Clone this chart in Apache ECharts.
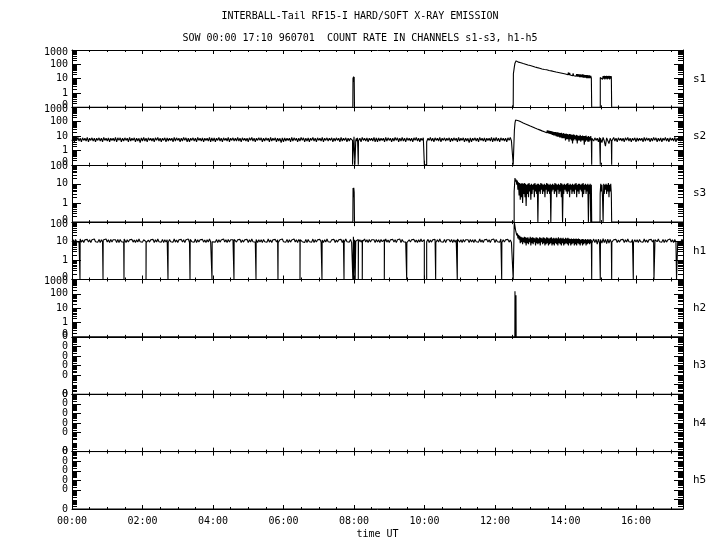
<!DOCTYPE html>
<html><head><meta charset="utf-8">
<script src="https://cdn.jsdelivr.net/npm/echarts@6/dist/echarts.min.js"></script>
<style>html,body{margin:0;padding:0;background:#fff}#c{width:720px;height:550px}</style>
</head><body><div id="c"></div>
<script>
const TITLE = 'INTERBALL-Tail RF15-I HARD/SOFT X-RAY EMISSION';
const SUBTITLE = 'SOW 00:00 17:10 960701  COUNT RATE IN CHANNELS s1-s3, h1-h5';
const X_AXIS_NAME = 'time UT';
const channels = ['s1','s2','s3','h1','h2','h3','h4','h5'];
const yMin = [0.1, 0.1, 0.1, 0.1, 0.1, 1e-7, 1e-7, 1e-7];
const yMax = [1000, 1000, 100, 100, 1000, 0.1, 0.1, 0.1];
const X_MIN = 0, X_MAX = 1040, X_INTERVAL = 120;   // minutes of day

// ---------- s1 ----------
const s1Pairs = [[0,0],[478,0],[478.3,12],[478.8,6],[479.3,14],[479.8,9],[480.3,13],[480.8,0],[751,0],[751.3,22],[752,35],[753,70],[754,120],[755,160],[756,175]];
const s1Decay = [ // 757..884, 1 min
165,150,160,142,150,136,140,130,134,122,
128,114,120,110,115,102,110,98,102,90,
98,86,92,82,91,78,84,74,80,70,
76,66,73,62,71,59,65,56,62,54,
60,50,59,48,55,47,53,44,54,42,
49,42,47,39,48,37,45,36,42,35,
40,33,38,32,37,30,36,29,35,28,
34,27,32,26,31,25,30,24,29,23,
29,22,28,21,27,20,26,19,27,18,
25,18,24,17,23,16,23,16,22,15,
22,15,21,14,21,14,20,13,20,13,
19,13,20,12,19,12,18,12,18,11,
18,11,17,11,17,11,16,11];
const s1LatePairs = [[884.6,11],[884.6,0],[899.2,0],[899.2,12]];
const s1Late = [15,10,16,9,15,10,16,9,15,10,16,9,15,10,16,9,15,10,15]; // 900..918
const s1EndPairs = [[918.6,12],[918.6,0],[1040,0]];

// ---------- s2 ----------
const s2Base = [ // 0..1040 step 2
4.5,7.5,4,7,5,8,4.5,7,4,7.5,5,7,4.5,8,4,7,5,7.5,4.5,7,
4,7,5,7.5,4.5,7,4,8,5,7,4.5,7.5,4,7,5,7,4.5,8,4,7.5,
5,7.5,4,7,4.5,7.5,5,7,4,8,4.5,7,5,7.5,4,7,4.5,7,3.5,7.5,
4.5,8,4.5,7,4,7.5,5,7,4.5,7,4,7.5,5,8,4.5,7,4,7,5,7.5,
4,7.5,4.5,7,5,7,4,8,4.5,7.5,5,7,4,7,4.5,8,5,7.5,4,7,
4,7,5,7.5,4.5,7,4,8,5,7,4.5,7.5,4,7,5,7,4.5,8,4,7.5,
4.5,7.5,4,7,5,8,4.5,7,4,7.5,5,7,4.5,8,4,7,5,7.5,4.5,7,
4.5,8,4.5,7,4,7.5,5,7,4.5,7,4,7.5,5,8,4.5,7,4,7,5,7.5,
5,7.5,4,7,4.5,7.5,5,7,4,8,4.5,7,5,7.5,4,7,4.5,7,3.5,7.5,
4,7.5,4.5,7,5,7,4,8,4.5,7.5,5,7,4,7,4.5,8,5,7.5,4,7,
4.5,7.5,4,7,5,8,4.5,7,4,7.5,5,7,4.5,8,4,7,5,7.5,4.5,7,
5,7.5,4,7,4.5,7.5,5,7,4,8,4.5,7,5,7.5,4,7,4.5,7,3.5,7.5,
4,7,5,7.5,4.5,7,4,8,5,7,4.5,7.5,4,7,5,7,4.5,8,4,7.5,
4,7.5,4.5,7,5,7,4,8,4.5,7.5,5,7,4,7,4.5,8,5,7.5,4,7,
4.5,8,4.5,7,4,7.5,5,7,4.5,7,4,7.5,5,8,4.5,7,4,7,5,7.5,
4.5,7.5,4,7,5,8,4.5,7,4,7.5,5,7,4.5,8,4,7,5,7.5,4.5,7,
5,7.5,4,7,4.5,7.5,5,7,4,8,4.5,7,5,7.5,4,7,4.5,7,3.5,7.5,
4,7,5,7.5,4.5,7,4,8,5,7,4.5,7.5,4,7,5,7,4.5,8,4,7.5,
4.5,8,4.5,7,4,7.5,5,7,4.5,7,4,7.5,5,8,4.5,7,4,7,5,7.5,
4,7.5,4.5,7,5,7,4,8,4.5,7.5,5,7,4,7,4.5,8,5,7.5,4,7,
4.5,7.5,4,7,5,8,4.5,7,4,7.5,5,7,4.5,8,4,7,5,7.5,4.5,7,
4,7,5,7.5,4.5,7,4,8,5,7,4.5,7.5,4,7,5,7,4.5,8,4,7.5,
5,7.5,4,7,4.5,7.5,5,7,4,8,4.5,7,5,7.5,4,7,4.5,7,3.5,7.5,
4.5,8,4.5,7,4,7.5,5,7,4.5,7,4,7.5,5,8,4.5,7,4,7,5,7.5,
4,7.5,4.5,7,5,7,4,8,4.5,7.5,5,7,4,7,4.5,8,5,7.5,4,7,
4.5,7.5,4,7,5,8,4.5,7,4,7.5,5,7,4.5,8,4,7,5,7.5,4.5,7,
5];
const s2Spike08 = [[476,5.5],[477.5,5],[477.5,0],[479.5,0],[480,9],[480.5,12],[481,10],[481.5,0],[482.5,0],[483,5],[484,7],[485,4.5],[486,7.5]];
const s2EventStart = [[750,5.5],[751,5],[751,0],[752.5,0],[753,25],[754,80],[755,130],[756,150]];
const s2Decay = [ // 757..884, 1 min
140,130,128,118,118,108,110,98,100,90,
92,82,86,76,80,70,74,64,68,60,
62,54,59,50,55,47,51,43,47,40,
44,36,42,33,39,31,37,29,35,27,
33,25,31,23,30,21,28,20,27,18,
26,17,25,16,24,15,23,14,22,13,
21,12,20,11,19,11,19,10,18,9,
18,9,17,8,16,8,17,7,15,7,
16,7,14,5,15,6,14,6,13,4,
14,6,13,5,12,3,13,5,12,6,
11,5,12,3,11,5,10,5,12,4,
10,5,11,5,10,2.5,10,4,11,5,
9,4,10,4,9,5,10,4];
const s2Gap = [7,3.5,8,4.5,2,7.5,8,3,7,4.5]; // 900..918 step 2
const s2Drops = [[487.3,487.6],[599.7,603.7],[884.6,884.9],[899.2,899.5],[918.6,918.9]];

// ---------- s3 ----------
const s3Pairs = [[0,0],[478,0],[478.4,6],[479.1,2],[479.6,6.3],[480.3,3.6],[480.8,0],[752.6,0],[752.6,4]];
const s3Event = [ // 753..884, 1 min
4,20,13,17,9,15,5,12,2.5,11,
1.5,10,2,11,1,10,3,11,2,10,
0.7,9,3,10,2,11,4,9,1.5,10,
3,9,5,10,2,11,4,9,3,10,
0,10,4,9,3,11,5,10,3,9,
4,10,2,9,5,11,3,10,4,9,
3,10,0,9,4,10,5,9,3,11,
4,10,2,9,5,10,3,9,4,11,
2,10,0,9,3,10,5,9,4,10,
3,11,4,9,2,10,5,9,3,10,
4,9,3,10,5,11,2,9,4,10,
3,10,5,9,4,10,2,11,3,9,
5,10,3,9,4,10,0,9,3,10,
0,9];
const s3GapPairs = [[884.6,9],[884.6,0],[898.8,0]];
const s3Late = [3,10,4,9,2,0,10,3,9,5,10,3,9,4,11,2,9,4,10,3]; // 899..918
const s3EndPairs = [[918.6,3],[918.6,0],[1040,0]];

// ---------- h1 ----------
const h1Base = [ // 0..1040 step 2
9,12,8.5,12.5,9.5,12,9,13,9,11.5,8.5,12,9.5,12.5,9,12,8.5,12,9.5,13,
9.5,12,9,12.5,8.5,12,9,11.5,9.5,13,9,12,8.5,12.5,9,12,9.5,12,8.5,12.5,
8.5,12.5,9.5,12,9,13,8.5,12,9,12,9.5,12.5,9,11.5,8.5,12,9,13,9.5,12,
9,12,9.5,12.5,8.5,11.5,9,12,9.5,12.5,8.5,12,9,13,9.5,12,9,12.5,8.5,12,
9,12,8.5,12.5,9.5,12,9,13,9,11.5,8.5,12,9.5,12.5,9,12,8.5,12,9.5,13,
8.5,12.5,9.5,12,9,13,8.5,12,9,12,9.5,12.5,9,11.5,8.5,12,9,13,9.5,12,
9.5,12,9,12.5,8.5,12,9,11.5,9.5,13,9,12,8.5,12.5,9,12,9.5,12,8.5,12.5,
9,12,9.5,12.5,8.5,11.5,9,12,9.5,12.5,8.5,12,9,13,9.5,12,9,12.5,8.5,12,
9,12,8.5,12.5,9.5,12,9,13,9,11.5,8.5,12,9.5,12.5,9,12,8.5,12,9.5,13,
9.5,12,9,12.5,8.5,12,9,11.5,9.5,13,9,12,8.5,12.5,9,12,9.5,12,8.5,12.5,
8.5,12.5,9.5,12,9,13,8.5,12,9,12,9.5,12.5,9,11.5,8.5,12,9,13,9.5,12,
9,12,9.5,12.5,8.5,11.5,9,12,9.5,12.5,8.5,12,9,13,9.5,12,9,12.5,8.5,12,
9.5,12,9,12.5,8.5,12,9,11.5,9.5,13,9,12,8.5,12.5,9,12,9.5,12,8.5,12.5,
9,12,8.5,12.5,9.5,12,9,13,9,11.5,8.5,12,9.5,12.5,9,12,8.5,12,9.5,13,
8.5,12.5,9.5,12,9,13,8.5,12,9,12,9.5,12.5,9,11.5,8.5,12,9,13,9.5,12,
9,12,9.5,12.5,8.5,11.5,9,12,9.5,12.5,8.5,12,9,13,9.5,12,9,12.5,8.5,12,
9.5,12,9,12.5,8.5,12,9,11.5,9.5,13,9,12,8.5,12.5,9,12,9.5,12,8.5,12.5,
9,12,8.5,12.5,9.5,12,9,13,9,11.5,8.5,12,9.5,12.5,9,12,8.5,12,9.5,13,
8.5,12.5,9.5,12,9,13,8.5,12,9,12,9.5,12.5,9,11.5,8.5,12,9,13,9.5,12,
9,12,9.5,12.5,8.5,11.5,9,12,9.5,12.5,8.5,12,9,13,9.5,12,9,12.5,8.5,12,
9,12,8.5,12.5,9.5,12,9,13,9,11.5,8.5,12,9.5,12.5,9,12,8.5,12,9.5,13,
9.5,12,9,12.5,8.5,12,9,11.5,9.5,13,9,12,8.5,12.5,9,12,9.5,12,8.5,12.5,
8.5,12.5,9.5,12,9,13,8.5,12,9,12,9.5,12.5,9,11.5,8.5,12,9,13,9.5,12,
9,12,9.5,12.5,8.5,11.5,9,12,9.5,12.5,8.5,12,9,13,9.5,12,9,12.5,8.5,12,
9,12,8.5,12.5,9.5,12,9,13,9,11.5,8.5,12,9.5,12.5,9,12,8.5,12,9.5,13,
9.5,12,9,12.5,8.5,12,9,11.5,9.5,13,9,12,8.5,12.5,9,12,9.5,12,8.5,12.5,
10];
const h1Spike08 = [[477,10],[478,10],[478,0],[478.6,0],[479,17],[479.5,0],[480.5,0],[481,12],[481.5,8],[482,0],[482.6,0],[483,10]];
const h1EventStart = [[750,10],[751,10],[751,0],[752.3,0],[752.6,60]];
const h1Event = [ // 753..884, 1 min
95,60,38,28,20,26,14,22,12,19,
8,17,9,16,7,15,9,17,8,16,
6,15,8,16,7,14,9,17,6,15,
8,16,7,15,9,14,6,16,8,15,
7,14,8,16,6,15,9,14,7,16,
8,15,6,14,7,16,8,15,6,14,
7,15,8,16,6,14,7,15,6,14,
8,15,7,14,6,16,8,14,7,15,
6,14,8,15,6,13,7,15,8,14,
7,15,6,14,8,13,6,14,7,13,
8,14,6,13,7,14,6,13,8,14,
7,13,6,12,8,13,6,13,7,12,
8,13,6,12,7,13,8,12,7,13,
8,12];
const h1Gap = [8,13,8.5,12.5,7,13,8,12.5,8,13.5,8.5,12.5,7.5,13,8,12.5,8.5]; // 886..918 step 2
const h1Drops = [[13.6,13.9],[52.8,53.1],[88.5,88.8],[126,126.3],[163.4,163.7],[200.9,201.2],[238.3,238.6],
  [275.7,276],[313.2,313.5],[350.6,350.9],[388.1,388.4],[425.5,425.8],[463,463.3],[487.3,487.6],[494.1,494.4],
  [531.6,531.9],[569.7,570],[599.7,603.7],[619,619.3],[655.8,656.1],[731.4,731.7],[884.6,884.9],[899.2,899.5],
  [918.6,918.9],[955.4,955.7],[990.6,992.3],[1029,1031]];

// ---------- h2..h5 ----------
const h2Pairs = [[0,0],[753.8,0],[754,150],[754.4,0],[755.4,0],[755.7,80],[756,0],[1040,0]];
const h3Pairs = [[0,0],[1040,0]];
const h4Pairs = [[0,0],[1040,0]];
const h5Pairs = [[0,0],[1040,0]];

// ---------- assembly ----------
function seq(values, start, step) { return values.map((v, i) => [start + i * step, v]); }
function overlay(pts, ov) {
  const a = ov[0][0], b = ov[ov.length - 1][0];
  return pts.filter(p => p[0] < a || p[0] > b).concat(ov).sort((p, q) => p[0] - q[0]);
}
function applyDrops(pts, drops) {
  for (const [t0, t1] of drops) {
    const before = pts.filter(p => p[0] < t0).pop();
    const after = pts.find(p => p[0] > t1);
    pts = pts.filter(p => p[0] < t0 || p[0] > t1);
    pts.push([t0, before ? before[1] : 0], [t0, 0], [t1, 0], [t1, after ? after[1] : 0]);
    pts.sort((p, q) => p[0] - q[0]);
  }
  return pts;
}
const s1 = [].concat(s1Pairs, seq(s1Decay, 757, 1), s1LatePairs, seq(s1Late, 900, 1), s1EndPairs);
let s2 = seq(s2Base, 0, 2);
s2 = overlay(s2, s2Spike08);
s2 = overlay(s2, s2EventStart.concat(seq(s2Decay, 757, 1)));
s2 = overlay(s2, seq(s2Gap, 900, 2));
s2 = applyDrops(s2, s2Drops);
const s3 = [].concat(s3Pairs, seq(s3Event, 753, 1), s3GapPairs, seq(s3Late, 899, 1), s3EndPairs);
let h1 = seq(h1Base, 0, 2);
h1 = overlay(h1, h1Spike08);
h1 = overlay(h1, h1EventStart.concat(seq(h1Event, 753, 1)));
h1 = overlay(h1, seq(h1Gap, 886, 2));
h1 = applyDrops(h1, h1Drops);
const allData = [s1, s2, s3, h1, h2Pairs, h3Pairs, h4Pairs, h5Pairs];

// ---------- chart ----------
const FONT = 'DejaVu Sans Mono';
const GL = 72, GW = 611, GT = 50, GH = 57.375;
const pad2 = n => String(n).padStart(2, '0');
const fmtX = v => pad2(Math.floor(v / 60)) + ':' + pad2(Math.round(v % 60));
const fmtY = v => (v >= 1 ? String(Math.round(v)) : '0');

const grid = [], xAxis = [], yAxis = [], series = [];
channels.forEach((ch, i) => {
  const dense = yMax[i] < 1;
  grid.push({ left: GL, top: GT + i * GH, width: GW, height: GH });
  ['bottom', 'top'].forEach(pos => {
    const isLabelAxis = (pos === 'bottom' && i === channels.length - 1);
    xAxis.push({
      type: 'value', gridIndex: i, position: pos, min: X_MIN, max: X_MAX, interval: X_INTERVAL,
      axisLine: { show: true, onZero: false, lineStyle: { color: '#000', width: 1 } },
      axisTick: { show: true, inside: true, length: 4, lineStyle: { color: '#000' } },
      minorTick: { show: true, splitNumber: 4, length: 2, lineStyle: { color: '#000' } },
      splitLine: { show: false },
      axisLabel: { show: isLabelAxis, formatter: fmtX, showMaxLabel: false, fontFamily: FONT, fontSize: 10, color: '#000', margin: 7 },
      name: isLabelAxis ? X_AXIS_NAME : '', nameLocation: 'middle', nameGap: 20,
      nameTextStyle: { fontFamily: FONT, fontSize: 10, color: '#000' }
    });
  });
  ['left', 'right'].forEach(pos => {
    yAxis.push({
      type: 'log', logBase: 10, gridIndex: i, position: pos, min: yMin[i], max: yMax[i],
      axisLine: { show: true, onZero: false, lineStyle: { color: '#000', width: 1 } },
      axisTick: { show: true, inside: true, length: 9, lineStyle: { color: '#000' } },
      splitLine: { show: false },
      axisLabel: { show: pos === 'left', showMinLabel: true, showMaxLabel: true, hideOverlap: false, interval: 0,
        formatter: fmtY, fontFamily: FONT, fontSize: 10, lineHeight: 4, color: '#000', margin: 4,
        verticalAlignMinLabel: dense ? 'middle' : 'bottom', verticalAlignMaxLabel: dense ? 'middle' : 'top' },
      name: pos === 'right' ? ch : '', nameLocation: 'middle', nameRotate: 0, nameGap: 10,
      nameTextStyle: { fontFamily: FONT, fontSize: 11, color: '#000', align: 'left' }
    });
  });
  const lo = yMin[i];
  series.push({
    type: 'line', xAxisIndex: 2 * i, yAxisIndex: 2 * i, symbol: 'none', silent: true,
    lineStyle: { color: '#000', width: 1.1 }, clip: true,
    data: allData[i].map(p => [p[0], Math.max(p[1], lo)])
  });
  // log minor ticks (2..9 of each decade) on both side axes
  const minor = [];
  for (let e = Math.round(Math.log10(yMin[i])); e < Math.round(Math.log10(yMax[i])); e++)
    for (let k = 2; k <= 9; k++) minor.push([X_MIN, k * Math.pow(10, e)]);
  series.push({
    type: 'custom', xAxisIndex: 2 * i, yAxisIndex: 2 * i, silent: true, clip: false, data: minor,
    renderItem: (params, api) => {
      const v = api.value(1);
      const L = api.coord([X_MIN, v]), R = api.coord([X_MAX, v]);
      const y = Math.round(L[1]) + 0.5;
      return { type: 'group', children: [
        { type: 'line', shape: { x1: L[0], y1: y, x2: L[0] + 5, y2: y }, style: { stroke: '#000', lineWidth: 1 } },
        { type: 'line', shape: { x1: R[0] - 5, y1: y, x2: R[0], y2: y }, style: { stroke: '#000', lineWidth: 1 } }
      ] };
    }
  });
});

const chart = echarts.init(document.getElementById('c'), null, { renderer: 'canvas' });
chart.setOption({
  backgroundColor: '#fff',
  animation: false,
  title: [
    { text: TITLE, left: 'center', top: 6, textStyle: { fontFamily: FONT, fontSize: 10, fontWeight: 'normal', color: '#000' } },
    { text: SUBTITLE, left: 'center', top: 28, textStyle: { fontFamily: FONT, fontSize: 10, fontWeight: 'normal', color: '#000' } }
  ],
  grid, xAxis, yAxis, series
});
</script></body></html>
